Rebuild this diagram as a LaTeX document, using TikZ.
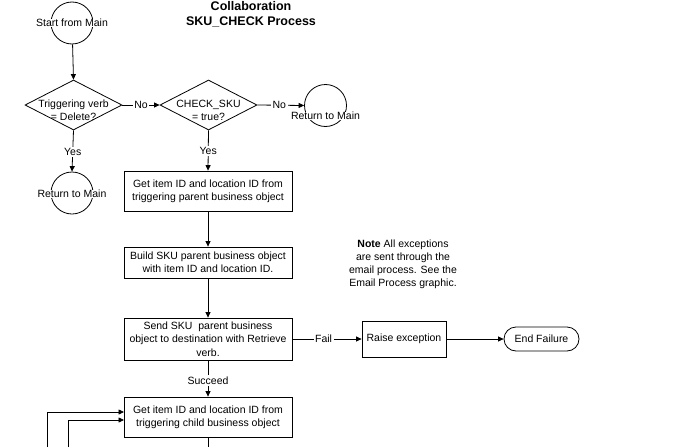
\documentclass[tikz,border=0pt]{standalone}
\usepackage{fontspec}
\setmainfont{Liberation Sans}
\usetikzlibrary{shapes.geometric,arrows.meta}
\begin{document}
\begin{tikzpicture}[x=1pt,y=-1pt,
  every node/.style={font=\fontsize{10.5}{12.8}\selectfont, inner sep=1pt},
  line/.style={draw=black, line width=0.8pt},
  arr/.style={line, -{Triangle[length=5.5pt,width=5pt]}},
  procbox/.style={draw, line width=0.8pt, rectangle, minimum width=168pt, align=center, inner sep=0pt},
  termcirc/.style={draw, line width=0.8pt, circle, minimum size=42pt, inner sep=0pt},
  circtext/.style={fill=white, inner sep=0.5pt},
  decision/.style={draw, line width=0.8pt, diamond, minimum width=97pt, minimum height=50pt, inner sep=0pt},
  lbl/.style={fill=white, inner sep=1.5pt}
]
\path[use as bounding box, fill=white] (0,0) rectangle (677,447);

% title
\node[font=\fontsize{12.5}{15}\selectfont\bfseries, align=center] (title) at (251,14.5) {Collaboration\\SKU\_CHECK Process};

% start
\node[termcirc] (start) at (72,23) {};
\node[circtext] (starttxt) at (72,23) {Start from Main};

% decisions
\node[decision] (d1) at (73.5,105) {};
\node[align=center] (d1txt) at (73.5,110) {Triggering verb\\= Delete?};
\node[decision] (d2) at (208.5,105) {};
\node[align=center] (d2txt) at (208.5,110) {CHECK\_SKU\\= true?};

% return circles
\node[termcirc] (rtop) at (325.5,105.5) {};
\node[circtext] (rtoptxt) at (325.5,116) {Return to Main};
\node[termcirc] (rbot) at (72,193) {};
\node[circtext] (rbottxt) at (72,194) {Return to Main};

% process boxes
\node[procbox, minimum height=40pt] (b1) at (208,191) {Get item ID and location ID from\\triggering parent business object};
\node[procbox, minimum height=31pt] (b2) at (208,262.5) {Build SKU parent business object\\with item ID and location ID.};
\node[procbox, minimum height=42pt, font=\fontsize{10.5}{13.3}\selectfont] (b3) at (208,339) {Send SKU\ \ parent business\\object to destination with Retrieve\\verb.};
\node[procbox, minimum height=40pt] (b4) at (208,417) {Get item ID and location ID from\\triggering child business object};

\node[draw, line width=0.8pt, minimum width=84pt, minimum height=36pt, inner sep=0pt] (raise) at (404,339) {Raise exception};
\node[draw, line width=0.8pt, minimum width=75pt, minimum height=24pt, rounded corners=12pt, inner sep=0pt] (endf) at (541.5,339) {End Failure};

% note
\node[align=center, font=\fontsize{10.5}{13.1}\selectfont] (note) at (403,264.5) {\textbf{Note} All exceptions\\are sent through the\\email process. See the\\Email Process graphic.};

% connectors
\draw[arr] (start) -- (d1.north);
\draw[arr] (d1.east) -- node[lbl] (no1) {No} (d2.west);
\draw[arr] (d2.east) -- node[lbl, pos=0.47] (no2) {No} (rtop.west);
\draw[arr] (d1.south) -- node[lbl, pos=0.52] (yes1) {Yes} (rbot.north);
\draw[arr] (d2.south) -- node[lbl, pos=0.52] (yes2) {Yes} (b1.north);
\draw[arr] (b1) -- (b2);
\draw[arr] (b2) -- (b3);
\draw[arr] (b3) -- node[lbl, pos=0.55] (succ) {Succeed} (b4);
\draw[arr] (b3.east) -- node[lbl, pos=0.45] (fail) {Fail} (raise.west);
\draw[arr] (raise.east) -- (endf.west);

% bottom-left incoming loops
\coordinate (c1) at (47,447);
\coordinate (c2) at (68,447);
\coordinate (c3) at (208,447);
\coordinate (e1) at (124,412);
\coordinate (e2) at (124,420);
\draw[arr] (c1) |- (e1);
\draw[arr] (c2) |- (e2);
\draw[line] (b4.south) -- (c3);
\end{tikzpicture}
\end{document}
